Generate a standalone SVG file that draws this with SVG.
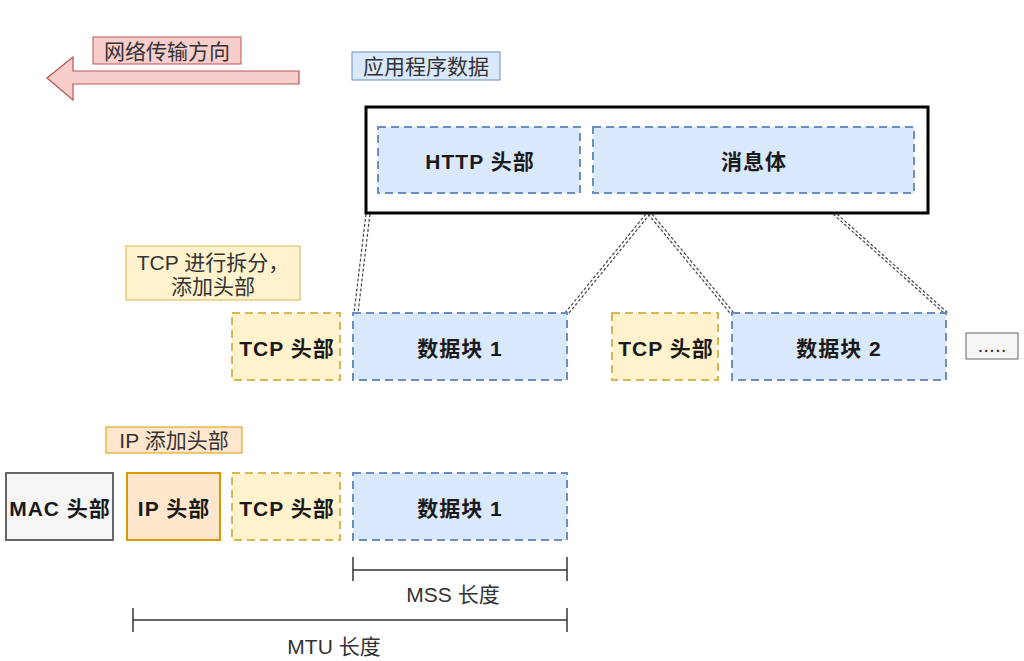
<svg xmlns="http://www.w3.org/2000/svg" width="1024" height="661" viewBox="0 0 1024 661">
<style>
.lbl{font-family:"Liberation Sans","Noto Sans CJK SC",sans-serif;font-size:21px;fill:#333;text-anchor:middle;dominant-baseline:central}
.bt{font-family:"Liberation Sans","Noto Sans CJK SC",sans-serif;font-size:21px;font-weight:bold;letter-spacing:1px;fill:#1a1a1a;text-anchor:middle;dominant-baseline:central}
.blue{fill:#dae8fc;stroke:#6c8ebf;stroke-width:2;stroke-dasharray:8 5}
.yel{fill:#fff2cc;stroke:#d6b656;stroke-width:2;stroke-dasharray:8 5}
.lk{stroke:#444;stroke-width:1.2;stroke-dasharray:3 2;fill:none}
.dim{stroke:#333;stroke-width:1.5;fill:none}
</style>
<rect width="1024" height="661" fill="#ffffff"/>
<g id="direction">
<path d="M47,78 L73,57 L73,71 L299,71 L299,84 L73,84 L73,100 Z" fill="#f8cecc" stroke="#b85450" stroke-width="1.2"/>
<rect x="93" y="37" width="148" height="27" fill="#f8cecc" stroke="#b85450" stroke-width="1"/>
<text class="lbl" x="167" y="51">网络传输方向</text>
</g>
<g id="app-label">
<rect x="352" y="52" width="148" height="28" fill="#dae8fc" stroke="#6c8ebf" stroke-width="1"/>
<text class="lbl" x="426" y="66">应用程序数据</text>
</g>
<g id="app-data">
<rect x="366" y="107" width="562" height="106" fill="#ffffff" stroke="#000" stroke-width="3"/>
</g>
<g id="http-header">
<rect class="blue" x="378" y="127" width="202" height="66"/>
<text class="bt" x="480" y="161">HTTP 头部</text>
</g>
<g id="body">
<rect class="blue" x="593" y="127" width="321" height="66"/>
<text class="bt" x="754" y="161">消息体</text>
</g>
<g id="connectors">
<path class="lk" d="M366,214 L354,313 M370,214 L358,313"/>
<path class="lk" d="M646,214 L565,313 M650,214 L569,313"/>
<path class="lk" d="M648,214 L730,313 M652,214 L734,313"/>
<path class="lk" d="M833,214 L944,313 M837,214 L948,313"/>
<path class="dim" d="M353,570 L567,570 M353,557 L353,581 M567,557 L567,581"/>
<path class="dim" d="M133,620 L567,620 M133,608 L133,632 M567,608 L567,632"/>
</g>
<g id="tcp-label">
<rect x="126" y="246" width="174" height="54" fill="#fff2cc" stroke="#d6b656" stroke-width="1"/>
<text class="lbl" x="213" y="262">TCP 进行拆分，</text>
<text class="lbl" x="213" y="286">添加头部</text>
</g>
<g id="tcp-header-1">
<rect class="yel" x="232" y="313" width="108" height="67"/>
<text class="bt" x="287" y="348">TCP 头部</text>
</g>
<g id="chunk-1">
<rect class="blue" x="353" y="313" width="214" height="67"/>
<text class="bt" x="460" y="348">数据块 1</text>
</g>
<g id="tcp-header-2">
<rect class="yel" x="612" y="313" width="106" height="67"/>
<text class="bt" x="666" y="348">TCP 头部</text>
</g>
<g id="chunk-2">
<rect class="blue" x="732" y="313" width="214" height="67"/>
<text class="bt" x="839" y="348">数据块 2</text>
</g>
<g id="more">
<rect x="966" y="333" width="52" height="26" fill="#f5f5f5" stroke="#666" stroke-width="1"/>
<text class="lbl" x="992" y="344" font-size="14">.....</text>
</g>
<g id="ip-label">
<rect x="106" y="427" width="136" height="26" fill="#ffe6cc" stroke="#d79b00" stroke-width="1"/>
<text class="lbl" x="174" y="440">IP 添加头部</text>
</g>
<g id="mac-header">
<rect x="6" y="473" width="107" height="67" fill="#f5f5f5" stroke="#666" stroke-width="2"/>
<text class="bt" x="60" y="508">MAC 头部</text>
</g>
<g id="ip-header">
<rect x="127" y="473" width="93" height="67" fill="#ffe6cc" stroke="#d79b00" stroke-width="2"/>
<text class="bt" x="174" y="508">IP 头部</text>
</g>
<g id="tcp-header-3">
<rect class="yel" x="232" y="473" width="108" height="67"/>
<text class="bt" x="287" y="508">TCP 头部</text>
</g>
<g id="chunk-1b">
<rect class="blue" x="353" y="473" width="214" height="67"/>
<text class="bt" x="460" y="508">数据块 1</text>
</g>
<g id="dims">
<text class="lbl" x="453" y="594">MSS 长度</text>
<text class="lbl" x="334" y="646">MTU 长度</text>
</g>
</svg>
